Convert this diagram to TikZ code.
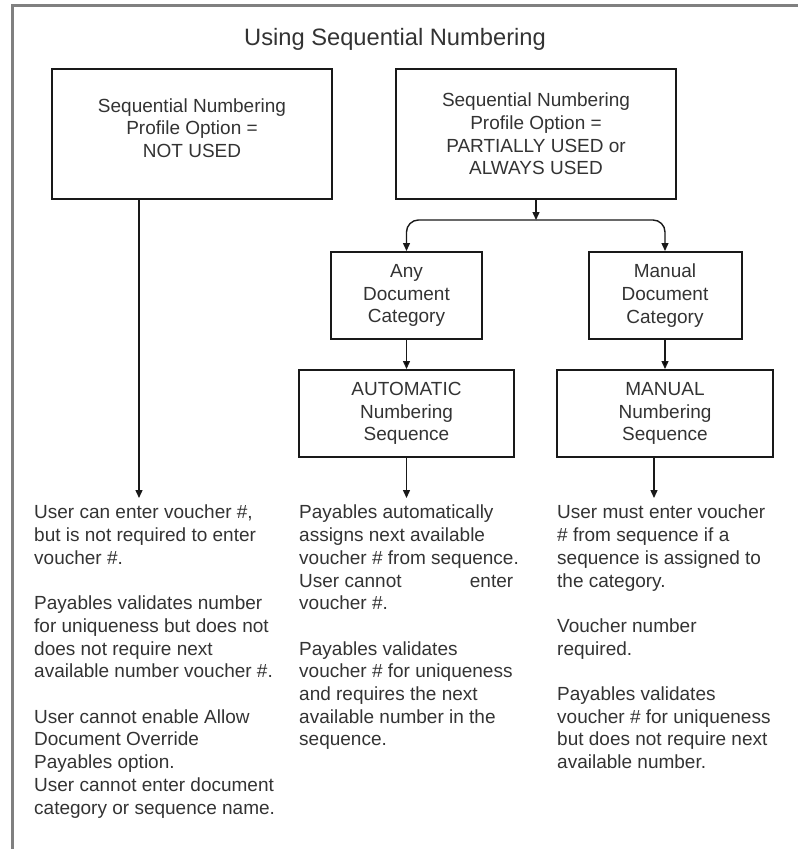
\documentclass[tikz,border=0pt]{standalone}
\usepackage{fontspec}
\setmainfont{Liberation Sans}
\usetikzlibrary{arrows.meta}

\begin{document}
\begin{tikzpicture}[x=1pt,y=-1pt,
    >={Triangle[length=8pt,width=7pt]},
    box/.style={draw=black!90,line width=2pt,align=center,text=black!80,
        font=\fontsize{19}{22.6}\selectfont},
    note/.style={anchor=north west,align=left,inner xsep=0pt,inner ysep=7pt,
        text=black!80,font=\fontsize{19}{22.7}\selectfont},
    link/.style={line width=1.4pt,draw=black!90}]
    \useasboundingbox (0,0) rectangle (798,849);
    \draw[black!50,line width=3pt] (798,5) -- (12,5) -- (12,849);
    \node[anchor=base,text=black!80,font=\fontsize{23.7}{28}\selectfont] (n0) at (395,45) {Using Sequential Numbering};
    \node[box,minimum width=280pt,minimum height=130pt,text depth=12pt] (n1) at (192,134) {Sequential Numbering\\Profile Option =\\NOT USED};
    \node[box,minimum width=280pt,minimum height=130pt] (n2) at (536,134) {Sequential Numbering\\Profile Option =\\PARTIALLY USED or\\ALWAYS USED};
    \node[box,minimum width=151pt,minimum height=87pt] (n3) at (406.5,295.5) {Any\\Document\\Category};
    \node[box,minimum width=153pt,minimum height=87pt] (n4) at (665,295.5) {Manual\\Document\\Category};
    \node[box,minimum width=215pt,minimum height=87pt] (n5) at (406.5,413.5) {AUTOMATIC\\Numbering\\Sequence};
    \node[box,minimum width=216pt,minimum height=87pt] (n6) at (665,413.5) {MANUAL\\Numbering\\Sequence};
    \node[note] (n7) at (34,498) {User can enter voucher \#,\\but is not required to enter\\voucher \#.\\[22.7pt]
        Payables validates number\\for uniqueness but does not\\does not require next\\available number voucher \#.\\[22.7pt]
        User cannot enable Allow\\Document Override\\Payables option.\\User cannot enter document\\category or sequence name.};
    \node[note] (n8) at (299,498) {Payables automatically\\assigns next available\\voucher \# from sequence.\\\hbox to 214pt{User cannot\hfill enter}\\voucher \#.\\[22.7pt]
        Payables validates\\voucher \# for uniqueness\\and requires the next\\available number in the\\sequence.};
    \node[note] (n9) at (557,498) {User must enter voucher\\\# from sequence if a\\sequence is assigned to\\the category.\\[22.7pt]
        Voucher number\\required.\\[22.7pt]
        Payables validates\\voucher \# for uniqueness\\but does not require next\\available number.};
    \coordinate (s) at (536,220);
    \draw[link,->] (n2) -- (s);
    \draw[link,->,rounded corners=12pt] (s) -| (n3);
    \draw[link,->,rounded corners=12pt] (s) -| (n4);
    \draw[link,->] (n3) edge (n5) (n4) edge (n6);
    \draw[link,->] ([xshift=-53pt]n1.south) -- ([xshift=-53pt]n1.south |- n7.north);
    \draw[link,->] (n5) -- (n5 |- n8.north);
    \draw[link,->] ([xshift=-11pt]n6.south) -- ([xshift=-11pt]n6.south |- n9.north);
\end{tikzpicture}
\end{document}
